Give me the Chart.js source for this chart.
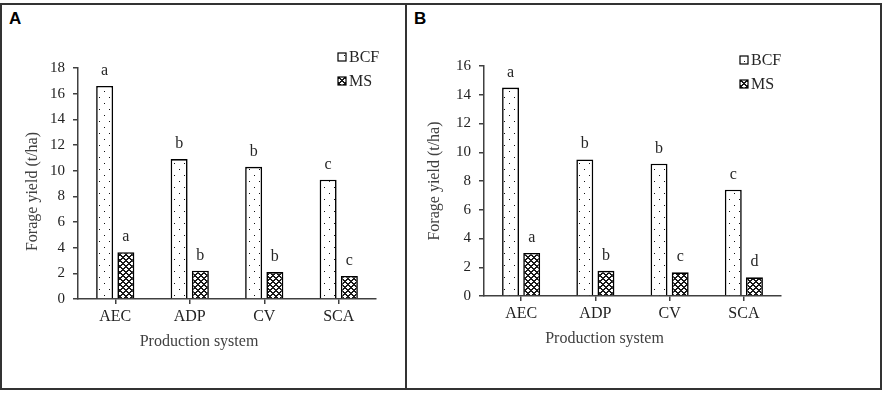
<!DOCTYPE html>
<html lang="en">
<head>
    <meta charset="UTF-8">
    <title>Forage yield by production system</title>
    <script src="https://cdn.jsdelivr.net/npm/chart.js@4.4.1/dist/chart.umd.min.js"></script>
    <style>
        body { margin: 0; background: #fff; }
        .panel {
            position: absolute;
            top: 3px;
            height: 387px;
            box-sizing: border-box;
            border: 2px solid #333;
        }
        .tag {
            position: absolute;
            font: bold 17px "Liberation Sans", Arial, sans-serif;
            color: #000;
        }
        canvas { position: absolute; }
    </style>
</head>
<body>
    <div class="panel" style="left:0; width:407px;"></div>
    <div class="panel" style="left:405px; width:477px;"></div>
    <div class="tag" style="left:9px; top:9px;">A</div>
    <div class="tag" style="left:414px; top:9px;">B</div>

    <canvas id="chartA" style="left:2px; top:5px; width:404px; height:383px;"></canvas>
    <canvas id="chartB" style="left:407px; top:5px; width:472px; height:383px;"></canvas>

<script>
    // data
    const systems = ["AEC", "ADP", "CV", "SCA"]

    const bcfA = [16.6, 10.9, 10.3, 9.3]
    const msA = [3.65, 2.2, 2.1, 1.8]
    const bcfLettersA = ["a", "b", "b", "c"]
    const msLettersA = ["a", "b", "b", "c"]

    const bcfB = [14.5, 9.5, 9.2, 7.4]
    const msB = [3.0, 1.75, 1.65, 1.3]
    const bcfLettersB = ["a", "b", "b", "c"]
    const msLettersB = ["a", "b", "c", "d"]

    const serif = "'Liberation Serif', 'Times New Roman', serif"

    function dotPattern() {
        let c = document.createElement("canvas")
        c.width = 10; c.height = 12
        let g = c.getContext("2d")
        g.fillStyle = "#fff"
        g.fillRect(0, 0, 10, 12)
        g.fillStyle = "#111"
        g.fillRect(2, 2, 1, 1)
        g.fillRect(7, 8, 1, 1)
        return g.createPattern(c, "repeat")
    }

    function hatchPattern() {
        // thick crosshatch, dark with small white diamonds
        let c = document.createElement("canvas")
        c.width = 6; c.height = 6
        let g = c.getContext("2d")
        g.fillStyle = "#fff"
        g.fillRect(0, 0, 6, 6)
        g.fillStyle = "#1a1a1a"
        for (let x = 0; x < 6; x++) {
            for (let y = 0; y < 6; y++) {
                let a = (x + y) % 6, b = (x - y + 6) % 6
                if (a <= 1 || b <= 1) g.fillRect(x, y, 1, 1)
            }
        }
        return g.createPattern(c, "repeat")
    }

    // letters above bars, legend and axis titles
    const extras = {
        id: "extras",
        afterDatasetsDraw(chart, args, opts) {
            const ctx = chart.ctx
            const area = chart.chartArea
            ctx.save()
            ctx.font = "16px " + serif
            ctx.fillStyle = "#262626"
            ctx.textAlign = "center"
            ctx.textBaseline = "alphabetic"
            opts.letters.forEach((list, i) => {
                chart.getDatasetMeta(i).data.forEach((bar, j) => {
                    ctx.fillText(list[j], bar.x, bar.y - 11)
                })
            })

            // legend
            ctx.textAlign = "left"
            ctx.textBaseline = "middle"
            chart.data.datasets.forEach((ds, i) => {
                let y = opts.legendY + i * 24
                ctx.fillStyle = ds.backgroundColor
                ctx.fillRect(opts.legendX, y - 4, 8, 8)
                ctx.strokeStyle = "#000"
                ctx.lineWidth = 1.2
                ctx.strokeRect(opts.legendX, y - 4, 8, 8)
                ctx.fillStyle = "#262626"
                ctx.fillText(ds.label, opts.legendX + 11, y + 1)
            })

            // axis titles
            ctx.fillStyle = "#404040"
            ctx.textAlign = "center"
            ctx.fillText("Production system", (area.left + area.right) / 2 - 28, area.bottom + 43)
            ctx.translate(opts.yTitleX, (area.top + area.bottom) / 2 + opts.yTitleShift)
            ctx.rotate(-Math.PI / 2)
            ctx.fillText("Forage yield (t/ha)", 0, 0)
            ctx.restore()
        }
    }

    function plotChart(id, bcf, ms, letters, max, pad, yWidth, extraOpts) {
        new Chart(document.getElementById(id), {
            type: "bar",
            data: {
                labels: systems,
                datasets: [
                    { label: "BCF", data: bcf, backgroundColor: dotPattern() },
                    { label: "MS", data: ms, backgroundColor: hatchPattern() }
                ]
            },
            options: {
                responsive: false,
                animation: false,
                devicePixelRatio: 1,
                layout: { padding: pad },
                datasets: {
                    bar: {
                        borderColor: "#000",
                        borderWidth: 1.6,
                        categoryPercentage: 0.57,
                        barPercentage: 0.8
                    }
                },
                plugins: {
                    legend: { display: false },
                    tooltip: { enabled: false },
                    extras: Object.assign({ letters: letters }, extraOpts)
                },
                scales: {
                    x: {
                        grid: { offset: false, drawOnChartArea: false, tickLength: 5, color: "#404040", lineWidth: 1.5 },
                        border: { color: "#404040", width: 1.5 },
                        ticks: { font: { family: serif, size: 16 }, color: "#222", padding: 3 },
                        afterFit: s => { s.height = 383 - 294 }
                    },
                    y: {
                        min: 0,
                        max: max,
                        grid: { drawOnChartArea: false, tickLength: 5, color: "#404040", lineWidth: 1.5 },
                        border: { color: "#404040", width: 1.5 },
                        ticks: { stepSize: 2, font: { family: serif, size: 15 }, color: "#222", padding: 8 },
                        afterFit: s => { s.width = yWidth }
                    }
                }
            },
            plugins: [extras]
        })
    }

    document.getElementById("chartA").width = 404
    document.getElementById("chartA").height = 383
    document.getElementById("chartB").width = 472
    document.getElementById("chartB").height = 383

    plotChart("chartA", bcfA, msA, [bcfLettersA, msLettersA], 18,
        { left: 0, right: 30, top: 63, bottom: 0 }, 76,
        { legendX: 336, legendY: 52, yTitleX: 31, yTitleShift: 8 })

    plotChart("chartB", bcfB, msB, [bcfLettersB, msLettersB], 16,
        { left: 0, right: 98, top: 61, bottom: 3 }, 77,
        { legendX: 333, legendY: 55, yTitleX: 28, yTitleShift: 0 })
</script>
</body>
</html>
